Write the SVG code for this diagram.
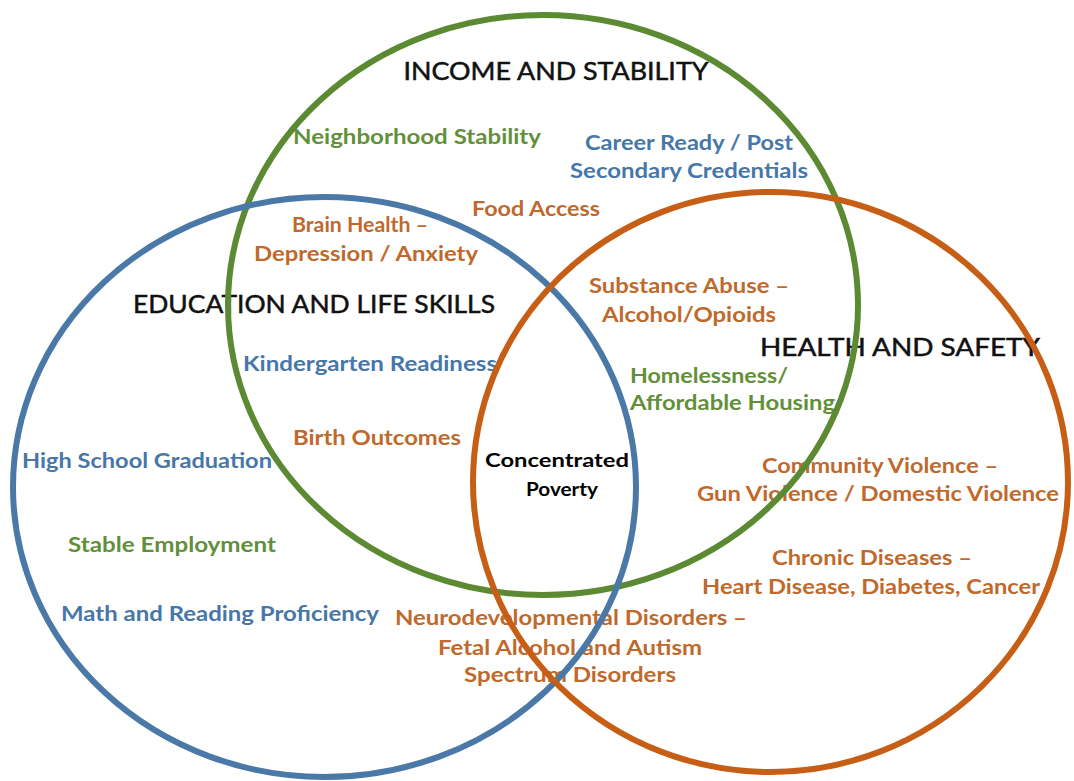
<svg xmlns="http://www.w3.org/2000/svg" width="1074" height="781" viewBox="0 0 1074 781">
<style>
text{font-family:Lato,"Open Sans","Liberation Sans",sans-serif;text-anchor:middle}
.h{font-size:25px;font-weight:400;fill:#111;stroke:#111;stroke-width:0.5}
.i{font-size:20px;font-weight:700}
.o{fill:#C0692C}
.g{fill:#62903A}
.b{fill:#4677A8}
.k{fill:#000;font-size:19px;font-weight:700}
.c{fill:none;stroke-width:6}
</style>
<rect width="1074" height="781" fill="#fff"/>
<g id="labels">
<text class="h" x="556" y="80" textLength="305" lengthAdjust="spacingAndGlyphs">INCOME AND STABILITY</text>
<text class="h" x="314" y="313" textLength="362" lengthAdjust="spacingAndGlyphs">EDUCATION AND LIFE SKILLS</text>
<text class="h" x="900" y="356" textLength="280" lengthAdjust="spacingAndGlyphs">HEALTH AND SAFETY</text>
</g>
<g id="items">
<text class="i g" x="417" y="144" textLength="248" lengthAdjust="spacingAndGlyphs">Neighborhood Stability</text>
<text class="i b" x="689" y="150" textLength="208" lengthAdjust="spacingAndGlyphs">Career Ready / Post</text>
<text class="i b" x="689" y="178" textLength="238" lengthAdjust="spacingAndGlyphs">Secondary Credentials</text>
<text class="i o" x="536" y="216" textLength="128" lengthAdjust="spacingAndGlyphs">Food Access</text>
<text class="i o" x="360" y="232" textLength="136" lengthAdjust="spacingAndGlyphs">Brain Health –</text>
<text class="i o" x="366" y="261" textLength="224" lengthAdjust="spacingAndGlyphs">Depression / Anxiety</text>
<text class="i o" x="689" y="293" textLength="200" lengthAdjust="spacingAndGlyphs">Substance Abuse –</text>
<text class="i o" x="689" y="322" textLength="174" lengthAdjust="spacingAndGlyphs">Alcohol/Opioids</text>
<text class="i b" x="370" y="371" textLength="254" lengthAdjust="spacingAndGlyphs">Kindergarten Readiness</text>
<text class="i g" x="630" y="383" style="text-anchor:start" textLength="158" lengthAdjust="spacingAndGlyphs">Homelessness/</text>
<text class="i g" x="630" y="410" style="text-anchor:start" textLength="205" lengthAdjust="spacingAndGlyphs">Affordable Housing</text>
<text class="i o" x="377" y="445" textLength="168" lengthAdjust="spacingAndGlyphs">Birth Outcomes</text>
<text class="i b" x="147" y="468" textLength="250" lengthAdjust="spacingAndGlyphs">High School Graduation</text>
<text class="i o" x="880" y="473" textLength="236" lengthAdjust="spacingAndGlyphs">Community Violence –</text>
<text class="i o" x="878" y="501" textLength="362" lengthAdjust="spacingAndGlyphs">Gun Violence / Domestic Violence</text>
<text class="i g" x="172" y="552" textLength="208" lengthAdjust="spacingAndGlyphs">Stable Employment</text>
<text class="i o" x="872" y="565" textLength="200" lengthAdjust="spacingAndGlyphs">Chronic Diseases –</text>
<text class="i o" x="871" y="594" textLength="338" lengthAdjust="spacingAndGlyphs">Heart Disease, Diabetes, Cancer</text>
<text class="i b" x="220" y="621" textLength="318" lengthAdjust="spacingAndGlyphs">Math and Reading Proficiency</text>
<text class="i o" x="571" y="625" textLength="352" lengthAdjust="spacingAndGlyphs">Neurodevelopmental Disorders –</text>
<text class="i o" x="570" y="655" textLength="264" lengthAdjust="spacingAndGlyphs">Fetal Alcohol and Autism</text>
<text class="i o" x="570" y="682" textLength="212" lengthAdjust="spacingAndGlyphs">Spectrum Disorders</text>
</g>
<g id="center">
<text class="k" x="557" y="467" textLength="144" lengthAdjust="spacingAndGlyphs">Concentrated</text>
<text class="k" x="562" y="496" textLength="72" lengthAdjust="spacingAndGlyphs">Poverty</text>
</g>
<g id="circles">
<ellipse id="income" class="c" cx="543" cy="305" rx="315" ry="290" stroke="#5B8A33"/>
<ellipse id="education" class="c" cx="324.5" cy="487" rx="311.5" ry="290" stroke="#4A79A8"/>
<ellipse id="health" class="c" cx="770.5" cy="482" rx="297.5" ry="290" stroke="#C65F15"/>
</g>
</svg>
